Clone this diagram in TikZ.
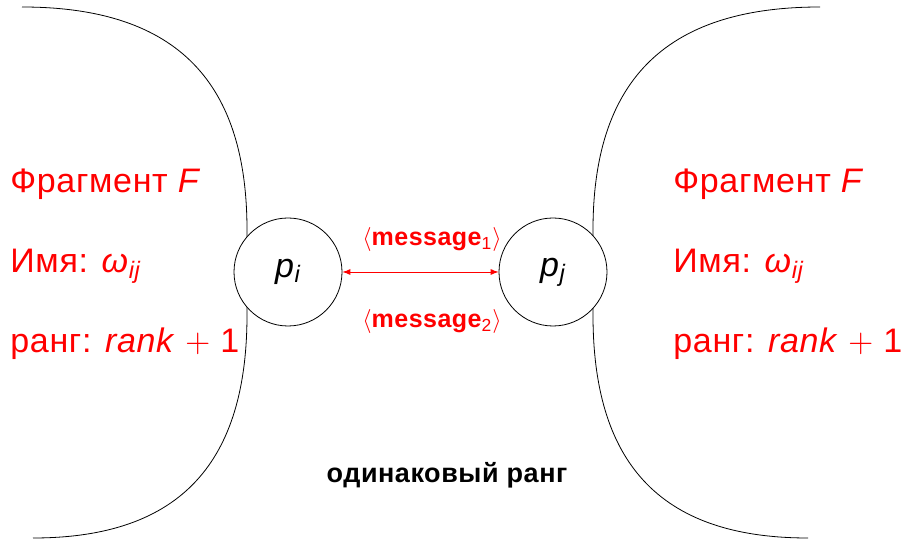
\documentclass[tikz,border=0pt]{standalone}
\usepackage{amsmath}
\usepackage{fontspec}
\setmainfont[LetterSpace=2]{Liberation Sans}
\usepackage{xcolor}

\begin{document}
\begin{tikzpicture}[x=0.5pt, y=-0.5pt, inner sep=0pt,
  info/.style={anchor=base west, text=red, font=\fontsize{17}{20}\selectfont},
  proc/.style={circle, draw, fill=white, minimum size=54pt, font=\fontsize{17}{20}\selectfont},
  msg/.style={text=red, font=\fontsize{12.5}{15}\selectfont\bfseries}]
  \useasboundingbox (0,0) rectangle (901,539);

  %%% fragment borders %%%
  % left fragment
  \draw (22,7) .. controls (180,7) and (247,85) .. (247,230) -- (247,315)
    .. controls (247,460) and (183,538) .. (33,538);
  % right fragment
  \draw (820,7) .. controls (661,7) and (593,85) .. (593,230) -- (593,315)
    .. controls (593,460) and (657,538) .. (808,538);

  %%% processes %%%
  \node[proc] (pi) at (288,272) {\textit{p}$_{\textit{i}}$};
  \node[proc] (pj) at (553,272) {\textit{p}$_{\textit{j}}$};
  % exchange of messages
  \draw[red, <->, >=latex] (pi) -- (pj);
  \node[msg] (msgA) at (432,240) {$\langle$message$_{\textmd{1}}\rangle$};
  \node[msg] (msgB) at (432,322) {$\langle$message$_{\textmd{2}}\rangle$};

  %%% fragment labels %%%
  % left
  \node[info] (fragL) at (10,193) {Фрагмент \textit{F}};
  \node[info] (nameL) at (10,273) {Имя: \textit{ω}$_{\textit{ij}}$};
  \node[info] (rankL) at (10,353) {ранг: \textit{rank} $+$ 1};
  % right
  \node[info] (fragR) at (673,193) {Фрагмент \textit{F}};
  \node[info] (nameR) at (673,273) {Имя: \textit{ω}$_{\textit{ij}}$};
  \node[info] (rankR) at (673,353) {ранг: \textit{rank} $+$ 1};

  % common rank
  \node[anchor=base, font=\fontsize{13.5}{16}\selectfont\bfseries] (same) at (447,483) {одинаковый ранг};
\end{tikzpicture}
\end{document}
